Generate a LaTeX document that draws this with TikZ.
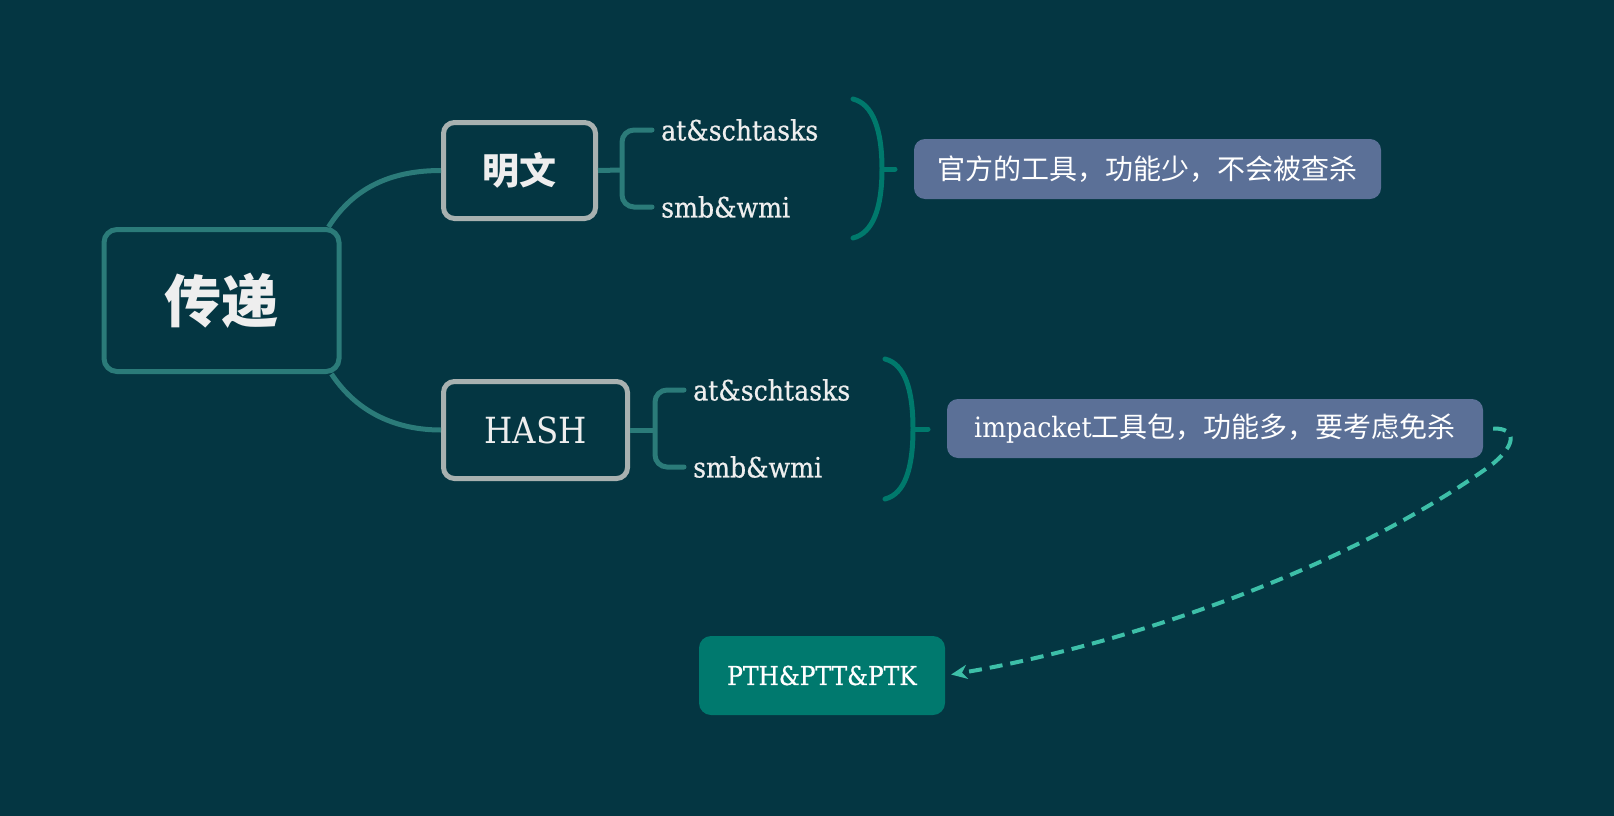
\documentclass[tikz,border=0pt]{standalone}
\usepackage{fontspec}
\usetikzlibrary{arrows.meta}
\newfontfamily\cjk{Noto Sans CJK SC}
\newfontfamily\slab[FakeStretch=0.9]{DejaVu Serif}
\newfontfamily\slabm[FakeStretch=0.9,FakeBold=0.6]{DejaVu Serif}
\definecolor{bg}{RGB}{4,54,66}
\definecolor{linkc}{RGB}{43,123,121}
\definecolor{grayc}{RGB}{168,177,176}
\definecolor{parenc}{RGB}{0,121,108}
\definecolor{sumfill}{RGB}{91,112,151}
\definecolor{pthfill}{RGB}{0,121,110}
\definecolor{dashc}{RGB}{61,191,168}
\definecolor{txt}{RGB}{238,238,238}
\tikzset{
  rootbox/.style={draw=linkc, line width=5pt, rounded corners=13pt, minimum width=235pt, minimum height=142pt, inner sep=0pt, text=txt},
  midbox/.style={draw=grayc, line width=5pt, rounded corners=11pt, inner sep=0pt, text=txt},
  sumbox/.style={fill=sumfill, rounded corners=11pt, inner sep=0pt, text=white},
  pthbox/.style={fill=pthfill, rounded corners=12pt, inner sep=0pt, text=white},
  leaf/.style={anchor=west, inner sep=0pt, text=txt, font=\slabm\fontsize{28}{32}\selectfont},
  linkline/.style={draw=linkc, line width=5pt},
  bracketline/.style={draw=linkc, line width=5pt, line cap=round, rounded corners=12pt},
  parenline/.style={draw=parenc, line width=5pt, line cap=round},
  dashline/.style={draw=dashc, line width=4pt, dash pattern=on 13pt off 8pt, -{Stealth[length=16pt,width=14pt,inset=5pt]}}
}
\begin{document}
\begin{tikzpicture}[x=1pt,y=-1pt]
\fill[bg] (0,0) rectangle (1614,816);
\useasboundingbox (0,0) rectangle (1614,816);

% main nodes
\node[rootbox, font=\cjk\bfseries\fontsize{57}{64}\selectfont] (root) at (221.5,300.5) {传递};
\node[midbox, minimum width=152pt, minimum height=96pt, font=\cjk\bfseries\fontsize{37}{44}\selectfont] (mw) at (519.5,170.5) {明文};
\node[midbox, minimum width=184pt, minimum height=97pt, font=\slab\fontsize{36}{40}\selectfont] (hash) at (535.5,430) {HASH};

% leaves
\node[leaf] (a1) at (661,130) {at\&schtasks};
\node[leaf] (b1) at (661,207) {smb\&wmi};
\node[leaf] (a2) at (693,390) {at\&schtasks};
\node[leaf] (b2) at (693,467) {smb\&wmi};

% summaries
\node[sumbox, minimum width=467pt, minimum height=60pt, font=\cjk\fontsize{28}{32}\selectfont] (s1) at (1147.5,169) {官方的工具，功能少，不会被查杀};
\node[sumbox, minimum width=536pt, minimum height=59pt] (s2) at (1215,428.5) {{\slab\fontsize{28}{32}\selectfont impacket}{\cjk\fontsize{28}{32}\selectfont 工具包，功能多，要考虑免杀}};
\node[pthbox, minimum width=246pt, minimum height=79pt, font=\slabm\fontsize{26}{30}\selectfont] (pth) at (822,675.5) {PTH\&PTT\&PTK};

% root links
\draw[linkline] ([xshift=-13pt]root.north east) .. controls (355,185) and (395,170.5) .. (mw.west);
\draw[linkline] ([xshift=-10pt]root.south east) .. controls (358,414) and (398,430) .. (hash.west);

% bracket 1
\coordinate (j1) at (622,170);
\draw[linkline] (mw.east) -- (j1);
\draw[bracketline] ([xshift=-9pt]a1.west) -| (j1) |- ([xshift=-9pt]b1.west);
% bracket 2
\coordinate (j2) at (655,430);
\draw[linkline] (hash.east) -- (j2);
\draw[bracketline] ([xshift=-9pt]a2.west) -| (j2) |- ([xshift=-9pt]b2.west);

% paren 1
\coordinate (p1) at (882,169);
\draw[parenline] (853,99) .. controls (873,104) and (882,130) .. (p1) .. controls (882,208) and (873,233) .. (853,238);
\draw[parenline] (p1) -- (895,169);
% paren 2
\coordinate (p2) at (913,429);
\draw[parenline] (885,359) .. controls (905,364) and (913,390) .. (p2) .. controls (913,468) and (905,494) .. (885,499);
\draw[parenline] (p2) -- (928,429);

% dashed arrow
\coordinate (ds) at ([xshift=10pt]s2.east);
\draw[dashline, shorten >=6pt] (ds) .. controls (1518,428) and (1516,446) .. (1490,466) .. controls (1330,580) and (1100,650) .. (pth.east);
\end{tikzpicture}
\end{document}
